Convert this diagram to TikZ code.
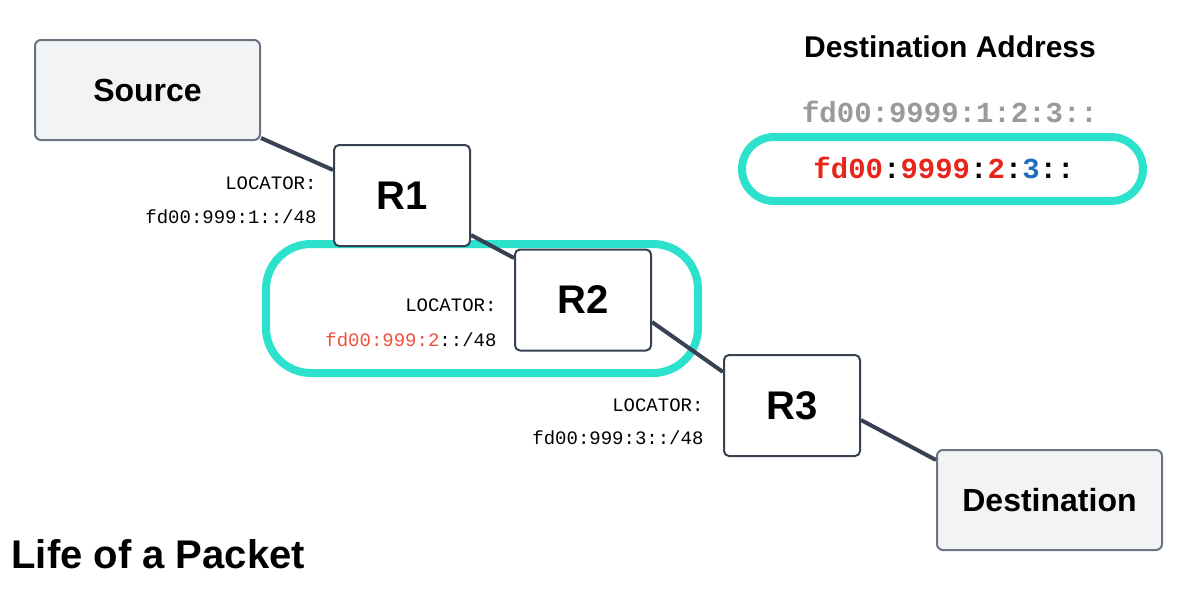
\documentclass[tikz,border=0pt]{standalone}
\usepackage{fontspec}
\setmainfont{Liberation Sans}
\newfontfamily\monofont{Liberation Mono}
\usetikzlibrary{positioning}
\definecolor{boxgray}{HTML}{F2F3F5}
\definecolor{edgegray}{HTML}{6B7280}
\definecolor{darkline}{HTML}{374151}
\definecolor{hlcyan}{HTML}{2DE2CC}
\definecolor{addrred}{HTML}{E8251A}
\definecolor{locred}{HTML}{F0503C}
\definecolor{addrblue}{HTML}{1F6FC0}
\definecolor{addrgray}{HTML}{9A9A9A}
\tikzset{
  host/.style={draw=edgegray, line width=2pt, fill=boxgray, rounded corners=6pt,
    minimum width=225pt, minimum height=100pt, font=\fontsize{32}{36}\selectfont\bfseries},
  router/.style={draw=darkline, line width=2pt, fill=white, rounded corners=5pt,
    minimum width=136pt, minimum height=101pt, font=\fontsize{40}{44}\selectfont\bfseries},
  link/.style={draw=darkline, line width=4pt},
  loc/.style={anchor=east, font=\monofont\fontsize{19}{22}\selectfont},
  ring/.style={draw=hlcyan, line width=8pt, rounded corners=45pt}
}
\begin{document}
\begin{tikzpicture}[x=1pt, y=-1pt]
  \useasboundingbox (0,0) rectangle (1200,600);

  % Highlight around R2
  \draw[ring] (266,244) rectangle (698,373);

  % Nodes
  \node[host] (src) at (147.5,90) {Source};
  \node[router] (r1) at (402,195.5) {R1};
  \node[router] (r2) at (583,300) {R2};
  \node[router] (r3) at (792,405.5) {R3};
  \node[host] (dst) at (1049.5,500) {Destination};

  % Links
  \begin{scope}[on background layer/.style={}]
  \end{scope}
  \draw[link] (src.south east) ++(0,-3) coordinate (s0);
  \draw[link] (s0) -- (r1.west |- 0,170);
  \draw[link] (r1.east |- 0,235) -- (r2.west |- 0,258);
  \draw[link] (r2.east |- 0,322) -- (r3.west |- 0,372);
  \draw[link] (r3.east |- 0,420) -- (dst.west |- 0,460);

  % Locators
  \node[loc] (l1a) at (320,183) {LOCATOR:};
  \node[loc] (l1b) at (320,217) {fd00:999:1::/48};
  \node[loc] (l2a) at (500,305) {LOCATOR:};
  \node[loc] (l2b) at (500,340) {\textcolor{locred}{fd00:999:2}::/48};
  \node[loc] (l3a) at (707,405) {LOCATOR:};
  \node[loc] (l3b) at (707,438) {fd00:999:3::/48};

  % Destination address
  \node[font=\fontsize{30}{34}\selectfont\bfseries] (title) at (950,47) {Destination Address};
  \node[font=\monofont\bfseries\fontsize{29}{32}\selectfont, text=addrgray] (full) at (950,112) {fd00:9999:1:2:3::};
  \draw[ring, rounded corners=32pt] (742,137) rectangle (1143,201);
  \node[font=\monofont\bfseries\fontsize{29}{32}\selectfont] (cur) at (944,168)
    {\textcolor{addrred}{fd00}:\textcolor{addrred}{9999}:\textcolor{addrred}{2}:\textcolor{addrblue}{3}::};

  % Caption
  \node[anchor=west, font=\fontsize{40}{44}\selectfont\bfseries] (cap) at (8,554) {Life of a Packet};
\end{tikzpicture}
\end{document}
